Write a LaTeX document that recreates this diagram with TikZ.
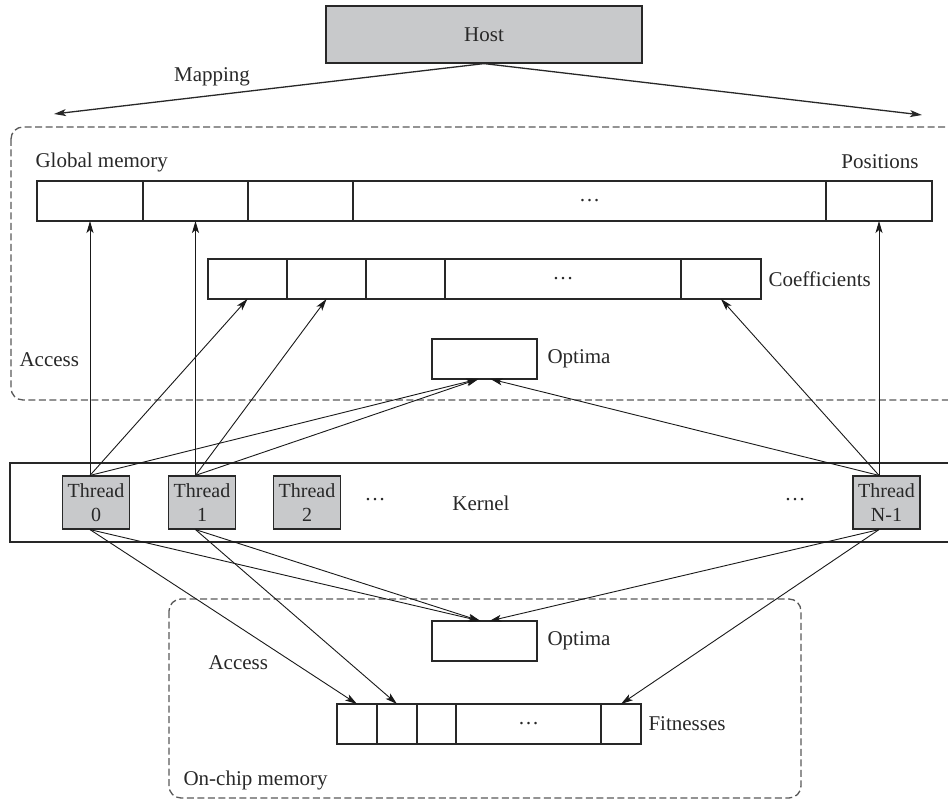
\documentclass[tikz,border=0pt]{standalone}
\usepackage{fontspec}
\setmainfont{Liberation Serif}
\usetikzlibrary{positioning,arrows.meta}
\definecolor{boxgray}{RGB}{200,201,203}
\definecolor{ink}{RGB}{40,40,40}

\begin{document}
\begin{tikzpicture}[x=1pt,y=-1pt,node distance=0pt,
	>={Stealth[length=12pt,width=7pt,inset=3pt]},
	every node/.style={font=\fontsize{21}{25}\selectfont,text=ink},
	cell/.style={draw=ink,line width=1.2pt,minimum height=40pt,inner sep=0pt,outer sep=0pt,anchor=north west},
	thread/.style={draw=ink,fill=boxgray,line width=1.2pt,minimum width=67pt,minimum height=53pt,inner sep=0pt,align=center,font=\fontsize{20}{24}\selectfont},
	memframe/.style={draw=black!65,dash pattern=on 7pt off 3.5pt,line width=1.3pt,rounded corners=12pt},
	access/.style={->,draw=black!90,line width=0.9pt}]
	\path[use as bounding box] (0,0) rectangle (948,799);
	\clip (0,0) rectangle (948,799);
	\node (H) [draw=ink,fill=boxgray,line width=1.2pt,minimum width=316pt,minimum height=57pt] at (484,34.5) {Host};
	\coordinate (ML) at (54,114);
	\coordinate (MR) at (922,115);
	\draw[->,draw=ink,line width=1.3pt] (H.south) to (ML);
	\draw[->,draw=ink,line width=1.3pt] (H.south) to (MR);
	\node (Map) at (212,77) {Mapping};
	\draw[memframe] (11,127) rectangle (975,400);
	\node (GM) [anchor=west] at (32,162) {Global memory};
	\node (P1) [cell,minimum width=106pt] at (37,181) {};
	\node (P2) [cell,minimum width=105pt,right=of P1] {};
	\node (P3) [cell,minimum width=105pt,right=of P2] {};
	\node (P4) [cell,minimum width=473pt,right=of P3] {\dots};
	\node (P5) [cell,minimum width=106pt,right=of P4] {};
	\node (PL) at (880,162) {Positions};
	\node (C1) [cell,minimum width=79pt] at (208,259) {};
	\node (C2) [cell,minimum width=79pt,right=of C1] {};
	\node (C3) [cell,minimum width=79pt,right=of C2] {};
	\node (C4) [cell,minimum width=236pt,right=of C3] {\dots};
	\node (C5) [cell,minimum width=80pt,right=of C4] {};
	\node (CL) [right=4pt of C5] {Coefficients};
	\node (O1) [cell,minimum width=105pt] at (432,339) {};
	\node (OL1) [right=7pt of O1] {Optima};
	\node (A1) [anchor=west] at (16,360) {Access};
	\draw[draw=ink,line width=1.2pt] (10,463) rectangle (975,542);
	\node (K) at (481,503) {Kernel};
	\node (T0) [thread] at (96,502.5) {Thread\\0};
	\node (T1) [thread] at (202,502.5) {Thread\\1};
	\node (T2) [thread] at (307,502.5) {Thread\\2};
	\node (TN) [thread] at (886.5,502.5) {Thread\\N-1};
	\node (D1) at (375,500) {\dots};
	\node (D2) at (795,500) {\dots};
	\draw[memframe] (169,599) rectangle (801,798);
	\node (O2) [cell,minimum width=105pt] at (432,621) {};
	\node (OL2) [right=7pt of O2] {Optima};
	\node (A2) [anchor=west] at (205,663) {Access};
	\node (F1) [cell,minimum width=40pt] at (337,704) {};
	\node (F2) [cell,minimum width=40pt,right=of F1] {};
	\node (F3) [cell,minimum width=39pt,right=of F2] {};
	\node (F4) [cell,minimum width=145pt,right=of F3] {\dots};
	\node (F5) [cell,minimum width=40pt,right=of F4] {};
	\node (FL) [right=4pt of F5] {Fitnesses};
	\node (OCM) [anchor=west] at (180,780) {On-chip memory};
	\coordinate (T0u) at (P1.south |- T0.north);
	\coordinate (T1u) at (P2.south |- T1.north);
	\coordinate (TNu) at (P5.south |- TN.north);
	\coordinate (T0d) at (T0u |- T0.south);
	\coordinate (T1d) at (T1u |- T1.south);
	\coordinate (TNd) at (TNu |- TN.south);
	\draw[access] (T0u) to (P1.south);
	\draw[access] (T0u) to (C1.south);
	\draw[access] (T0u) to ([xshift=-6pt]O1.south);
	\draw[access] (T1u) to (P2.south);
	\draw[access] (T1u) to (C2.south);
	\draw[access] (T1u) to ([xshift=-6pt]O1.south);
	\draw[access] (TNu) to (P5.south);
	\draw[access] (TNu) to (C5.south);
	\draw[access] (TNu) to ([xshift=6pt]O1.south);
	\draw[access] (T0d) to ([xshift=-4pt]O2.north);
	\draw[access] (T0d) to (F1.north);
	\draw[access] (T1d) to ([xshift=-4pt]O2.north);
	\draw[access] (T1d) to (F2.north);
	\draw[access] (TNd) to ([xshift=5pt]O2.north);
	\draw[access] (TNd) to (F5.north);
\end{tikzpicture}
\end{document}
